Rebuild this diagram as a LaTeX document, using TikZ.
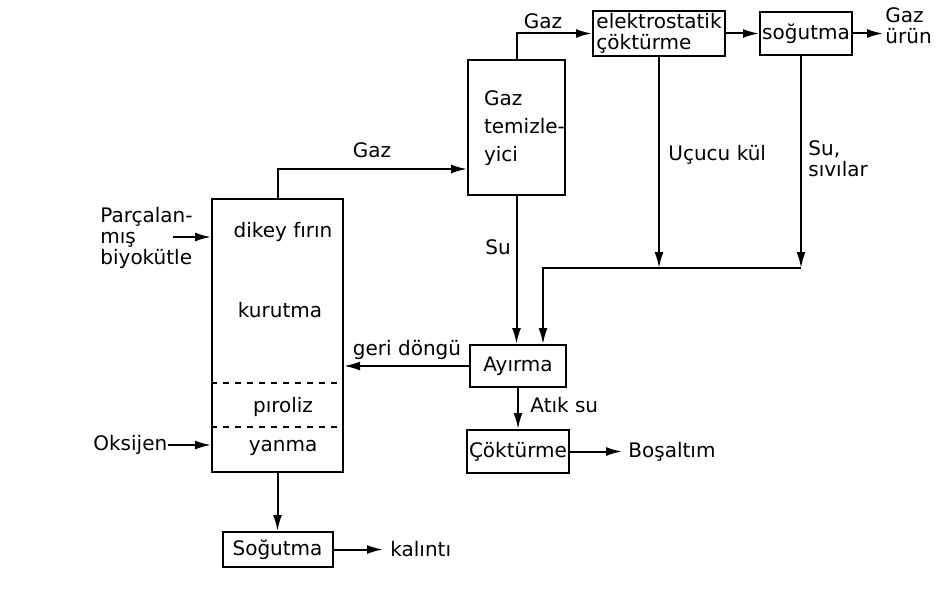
\documentclass[tikz,border=0pt]{standalone}
\usepackage{fontspec}
\setmainfont{DejaVu Sans}
\usetikzlibrary{arrows.meta,calc}
\tikzset{
  box/.style={draw, line width=1pt, inner sep=1pt},
  flow/.style={line width=1pt, -{Latex[length=8pt,width=4.5pt]}},
  line/.style={line width=1pt}
}

\begin{document}
\begin{tikzpicture}[x=0.5pt, y=-0.5pt, font=\fontsize{10}{10.5}\selectfont]
    \useasboundingbox (0,0) rectangle (945,588);
    % kutular
    \node[box, minimum width=65.5pt, minimum height=136.5pt] (firin) at (277.5,335.5) {};
    \node[box, minimum width=48.5pt, minimum height=67.5pt] (temizleyici) at (516.5,127.5) {};
    \node[box, minimum width=66pt, minimum height=21.5pt, align=left] (elektro) at (659,33.5) {elektrostatik\\çöktürme};
    \node[box, minimum width=46pt, minimum height=21.5pt] (sogutmaust) at (806,33.5) {soğutma};
    \node[box, minimum width=48pt, minimum height=21pt] (ayirma) at (518,366) {Ayırma};
    \node[box, minimum width=49pt, minimum height=21.5pt] (cokturme) at (518,451.5) {Çöktürme};
    \node[box, minimum width=55pt, minimum height=17.5pt] (sogutmaalt) at (277.5,549.5) {Soğutma};
    \draw[line, dashed] (firin.west |- 0,383) -- (firin.east |- 0,383);
    \draw[line, dashed] (firin.west |- 0,427) -- (firin.east |- 0,427);
    \node (dikey) at (283,232) {dikey fırın};
    \node (kurutma) at (280,310) {kurutma};
    \node (piroliz) at (283,407) {pıroliz};
    \node (yanma) at (283,448) {yanma};
    \node[anchor=west, align=left, font=\fontsize{10}{14}\selectfont] (temizmetin) at (477,128) {Gaz\\temizle-\\yici};
    % girdiler
    \node[anchor=west, align=left, inner sep=0pt] (parca) at (100,238) {Parçalan-\\mış\\biyokütle};
    \coordinate (parcaok) at (173,237);
    \node[anchor=west, inner sep=0pt] (oksijen) at (93,445) {Oksijen};
    \draw[flow] (parcaok) -- (firin.west |- parcaok);
    \draw[flow] (oksijen.east) -- (firin.west |- oksijen.east);
    % gaz hatti
    \draw[flow] (firin.north) |- ($(temizleyici.south west)+(0,-27)$);
    \node (gaz1) at (372,150) {Gaz};
    \draw[flow] (temizleyici.north) |- (elektro.west);
    \node (gaz2) at (543,21) {Gaz};
    \draw[flow] (elektro.east) -- (sogutmaust.west);
    \coordinate (gazcikis) at (883,33.5);
    \draw[flow] (sogutmaust.east) -- (gazcikis);
    \node[anchor=west, align=left, inner sep=0pt] (gazurun) at (885,26) {Gaz\\ürün};
    % sivi hatti
    \coordinate (birlesme1) at (659,268);
    \coordinate (birlesme2) at (801,268);
    \coordinate (birlesme3) at (543,268);
    \draw[flow] (elektro.south) -- (birlesme1);
    \node[anchor=west, inner sep=0pt] (ucucu) at (668,155) {Uçucu kül};
    \draw[flow] (sogutmaust.south -| birlesme2) -- (birlesme2);
    \node[anchor=west, align=left, inner sep=0pt] (sivilar) at (808,159) {Su,\\sıvılar};
    \draw[flow] (birlesme2) -- (birlesme3) -- (ayirma.north -| birlesme3);
    \draw[flow] (temizleyici.south) -- (temizleyici.south |- ayirma.north);
    \node (su) at (498,247) {Su};
    \draw[flow] (ayirma.west) -- (firin.east |- ayirma.west);
    \node (geri) at (407,350) {geri döngü};
    \draw[flow] (ayirma.south) -- (cokturme.north);
    \node[anchor=west, inner sep=0pt] (atik) at (530,405) {Atık su};
    \coordinate (bosaltok) at (622,451.5);
    \draw[flow] (cokturme.east) -- (bosaltok);
    \node[anchor=west, inner sep=0pt] (bosaltim) at (628,452) {Boşaltım};
    % kati atik
    \draw[flow] (firin.south) -- (sogutmaalt.north);
    \coordinate (kalintiok) at (383,549.5);
    \draw[flow] (sogutmaalt.east) -- (kalintiok);
    \node[anchor=west, inner sep=0pt] (kalinti) at (390,549) {kalıntı};
\end{tikzpicture}
\end{document}
